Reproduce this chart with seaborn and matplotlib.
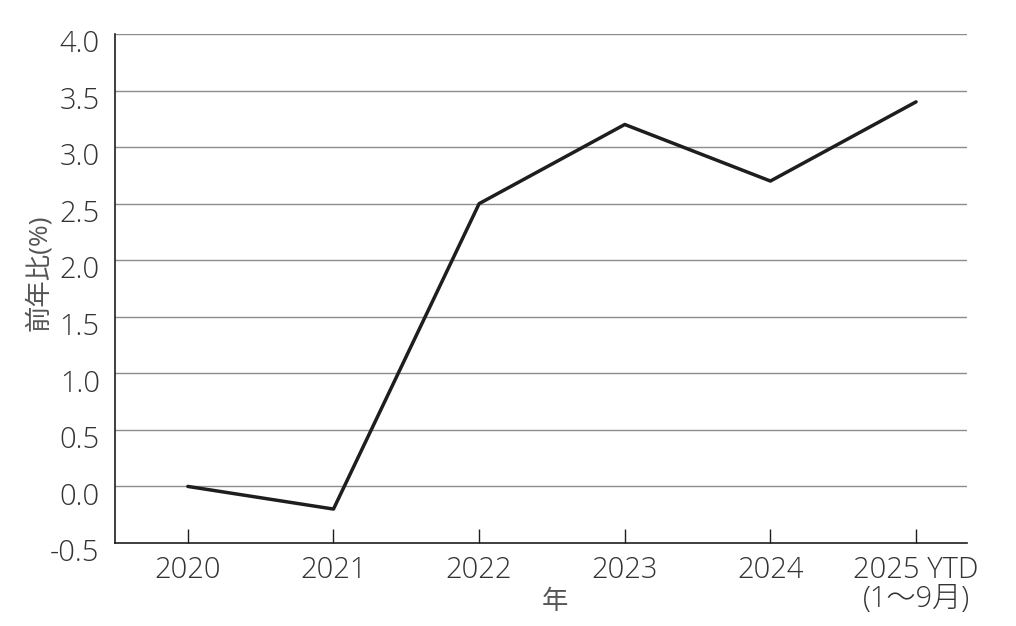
import numpy as np
import pandas as pd
import matplotlib
matplotlib.use('Agg')
import matplotlib.pyplot as plt
import matplotlib.transforms as mtransforms
import seaborn as sns

# data
years = ['2020', '2021', '2022', '2023', '2024', '2025 YTD\n(1～9月)']
yoy = [0.0, -0.2, 2.5, 3.2, 2.7, 3.4]
y_ticks = [-0.5, 0.0, 0.5, 1.0, 1.5, 2.0, 2.5, 3.0, 3.5, 4.0]

df = pd.DataFrame({'pos': np.arange(len(years)), 'yoy': yoy})

sns.set_theme(style='white')
plt.rcParams['font.family'] = ['Open Sans', 'Noto Sans CJK JP', 'DejaVu Sans']
plt.rcParams['font.weight'] = 'light'

fig = plt.figure(figsize=(10.16, 6.26), dpi=100)
ax = fig.add_axes([0.1132, 0.1326, 0.8386, 0.8131])

sns.lineplot(data=df, x='pos', y='yoy', color='#1e1e1e', linewidth=2.5, ax=ax)

ax.set_xlim(-0.5, 5.35)
ax.set_ylim(-0.5, 4.0)
ax.set_yticks(y_ticks)
ax.set_yticklabels([f'{v:.1f}' for v in y_ticks])
ax.set_xticks(df['pos'])
ax.set_xticklabels(years, linespacing=1.0)

for v in y_ticks[1:]:
    ax.axhline(v, color='#8c8c8c', linewidth=1.0, zorder=0)

for s in ['top', 'right']:
    ax.spines[s].set_visible(False)
for s in ['left', 'bottom']:
    ax.spines[s].set_color('#1e1e1e')
    ax.spines[s].set_linewidth(1.2)

ax.tick_params(axis='x', direction='in', length=10, width=1.0, color='#1e1e1e',
               pad=9, labelsize=21, labelcolor='#333333', bottom=True)
ax.tick_params(axis='y', length=0, pad=11, labelsize=21, labelcolor='#333333')

# y labels sit a little below their gridlines in the reference
offset = mtransforms.ScaledTranslation(0, -7 / 100, fig.dpi_scale_trans)
for lbl in ax.get_yticklabels():
    lbl.set_transform(lbl.get_transform() + offset)

ax.set_xlabel('年', fontsize=19, color='#555555')
ax.set_ylabel('前年比(%)', fontsize=19, color='#555555')
ax.xaxis.set_label_coords(0.516, -0.092)
ax.yaxis.set_label_coords(-0.074, 0.53)

fig.savefig('out.png', dpi=100)
